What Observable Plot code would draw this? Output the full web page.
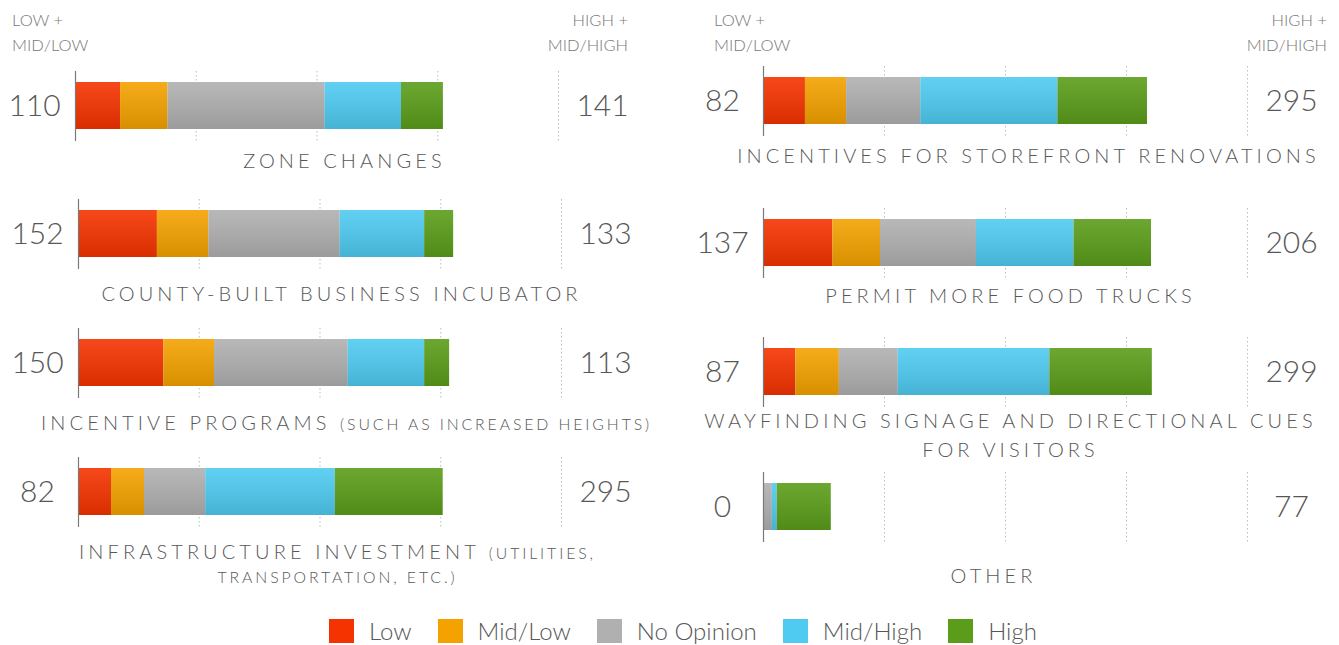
<!DOCTYPE html>
<html>
<head>
<meta charset="utf-8">
<script src="https://cdn.jsdelivr.net/npm/d3@7"></script>
<script src="https://cdn.jsdelivr.net/npm/@observablehq/plot@0.6"></script>
<style>
html, body { margin: 0; padding: 0; background: #fff; }
#root { position: relative; width: 1339px; height: 645px; overflow: hidden; font-family: Lato, "Open Sans", sans-serif; font-weight: 300; }
.panel { position: absolute; }
.panel svg { overflow: visible; max-width: none; background: transparent; }
.hdr { position: absolute; font-size: 16.5px; line-height: 25px; color: #777; font-weight: 300; font-family: Lato, sans-serif; }
.legendbox { position: absolute; left: 329px; top: 614px; }
.lg-swatch { margin-right: 26px !important; }
.lg-swatch > svg { margin-right: 15px !important; }
</style>
</head>
<body>
<svg width="0" height="0" style="position:absolute">
  <defs>
    <linearGradient id="shade" x1="0" y1="0" x2="0" y2="1">
      <stop offset="0" stop-color="#ffffff" stop-opacity="0.10"/>
      <stop offset="1" stop-color="#000000" stop-opacity="0.12"/>
    </linearGradient>
  </defs>
</svg>
<div id="root"></div>
<script>
// ---- data ----
const levels = ["Low", "Mid/Low", "No Opinion", "Mid/High", "High"];
const questions = [
  "ZONE CHANGES",
  "COUNTY-BUILT BUSINESS INCUBATOR",
  "INCENTIVE PROGRAMS (SUCH AS INCREASED HEIGHTS)",
  "INFRASTRUCTURE INVESTMENT (UTILITIES,\nTRANSPORTATION, ETC.)",
  "INCENTIVES FOR STOREFRONT RENOVATIONS",
  "PERMIT MORE FOOD TRUCKS",
  "WAYFINDING SIGNAGE AND DIRECTIONAL CUES\nFOR VISITORS",
  "OTHER"
];
const low       = [56,  98, 106,  41,  52,  86,  40,  0];
const midLow    = [59,  64,  63,  41,  51,  59,  54,  0];
const noOpinion = [195, 163, 166, 76,  92, 119,  73, 11];
const midHigh   = [95, 105,  95, 161, 170, 121, 188,  6];
const high      = [52,  36,  31, 134, 111,  96, 127, 67];
const lowTotals  = [110, 152, 150, 82, 82, 137, 87, 0];
const highTotals = [141, 133, 113, 295, 295, 206, 299, 77];
const gridTicks = [150, 300, 450, 600];
const headerLow = ["LOW +", "MID/LOW"];
const headerHigh = ["HIGH +", "MID/HIGH"];

// ---- styles / layout ----
const colors = ["#f53300", "#f4a200", "#b0b0b0", "#4fcbf1", "#5b9d1a"];
const series = [low, midLow, noOpinion, midHigh, high];
const axisX    = [75, 78, 78, 78, 763, 763, 763, 763];
const frameTop = [71, 199, 328, 457, 66, 208, 337, 472];
const labelDx  = [269, 263, 268, 259, 265, 247, 247, 230];
const labelDy  = [20, 25, 25, 25, 20, 18, 14, 34];
const lineGap  = [25, 25, 25, 25, 29, 29, 29, 29];
const rangeW   = [483, 483, 483, 483, 484, 484, 484, 484];
const marginR  = [100, 100, 100, 100, 92, 92, 92, 92];
const ML = 75, FRAME_H = 70, MB = 62;
const textColor = "#575757";
const noteSize = 15.8, noteSpacing = 2.9;

const root = document.getElementById("root");

function styleLabel(svg, lines) {
  let inside = false;
  lines.forEach((s) => {
    const node = d3.select(svg).selectAll("text").filter(function () { return this.textContent === s; }).node();
    if (!node) return;
    const sel = d3.select(node).attr("letter-spacing", 4.1);
    if (inside) {
      sel.attr("font-size", noteSize).attr("letter-spacing", noteSpacing);
    } else {
      const p = s.indexOf("(");
      if (p >= 0) {
        sel.text(null);
        sel.append("tspan").text(s.slice(0, p));
        sel.append("tspan").attr("font-size", noteSize).attr("letter-spacing", noteSpacing).text(s.slice(p));
      }
    }
    const o = s.lastIndexOf("("), c = s.lastIndexOf(")");
    if (o > c) inside = true; else if (c > o) inside = false;
  });
}

questions.forEach((q, i) => {
  const rows = levels.map((level, j) => ({level, value: series[j][i]}));
  const total = d3.sum(rows, d => d.value);
  const lines = q.split("\n");
  const textOpts = {fontFamily: "Lato", fontWeight: 300, fill: textColor, textAnchor: "middle", lineAnchor: "middle"};
  const marks = [
    Plot.ruleX(gridTicks, {stroke: "#bdbdbd", strokeDasharray: "1.5,2.5", strokeWidth: 1}),
    Plot.barX(rows, Plot.stackX({x: "value", fill: "level", insetTop: 11, insetBottom: 12})),
    Plot.barX([total], {x: d => d, fill: "url(#shade)", insetTop: 11, insetBottom: 12}),
    Plot.ruleX([0], {stroke: "#7a7a7a", strokeWidth: 1.2}),
    Plot.text([lowTotals[i]], {...textOpts, text: d => String(d), frameAnchor: "left", dx: -41, fontSize: 30}),
    Plot.text([highTotals[i]], {...textOpts, text: d => String(d), frameAnchor: "right", dx: 44, fontSize: 30}),
    Plot.text([lines[0]], {...textOpts, text: d => d, frameAnchor: "bottom-left", dx: labelDx[i], dy: labelDy[i], fontSize: 20})
  ];
  if (lines[1]) {
    marks.push(Plot.text([lines[1]], {...textOpts, text: d => d, frameAnchor: "bottom-left", dx: labelDx[i], dy: labelDy[i] + lineGap[i], fontSize: 20}));
  }
  const svg = Plot.plot({
    width: ML + rangeW[i] + marginR[i],
    height: FRAME_H + MB,
    marginTop: 0,
    marginBottom: MB,
    marginLeft: ML,
    marginRight: marginR[i],
    x: {domain: [0, 600], axis: null},
    color: {domain: levels, range: colors},
    style: {background: "transparent", overflow: "visible", fontFamily: "Lato"},
    marks
  });
  styleLabel(svg, lines);
  const div = document.createElement("div");
  div.className = "panel";
  div.style.left = (axisX[i] - ML) + "px";
  div.style.top = frameTop[i] + "px";
  div.appendChild(svg);
  root.appendChild(div);
});

// headers
function header(lines, css) {
  const d = document.createElement("div");
  d.className = "hdr";
  Object.assign(d.style, css);
  d.innerHTML = lines.join("<br>");
  root.appendChild(d);
}
header(headerLow, {left: "12px", top: "8px"});
header(headerHigh, {right: (1339 - 628) + "px", top: "8px", textAlign: "right"});
header(headerLow, {left: "714px", top: "8px"});
header(headerHigh, {right: (1339 - 1327) + "px", top: "8px", textAlign: "right"});

// legend
const lg = Plot.legend({
  color: {type: "ordinal", domain: levels, range: colors},
  swatchWidth: 25,
  swatchHeight: 24,
  className: "lg",
  style: {fontSize: "24px", fontFamily: "Lato", fontWeight: 300, color: textColor, background: "transparent"}
});
const lgBox = document.createElement("div");
lgBox.className = "legendbox";
lgBox.appendChild(lg);
root.appendChild(lgBox);
</script>
</body>
</html>
